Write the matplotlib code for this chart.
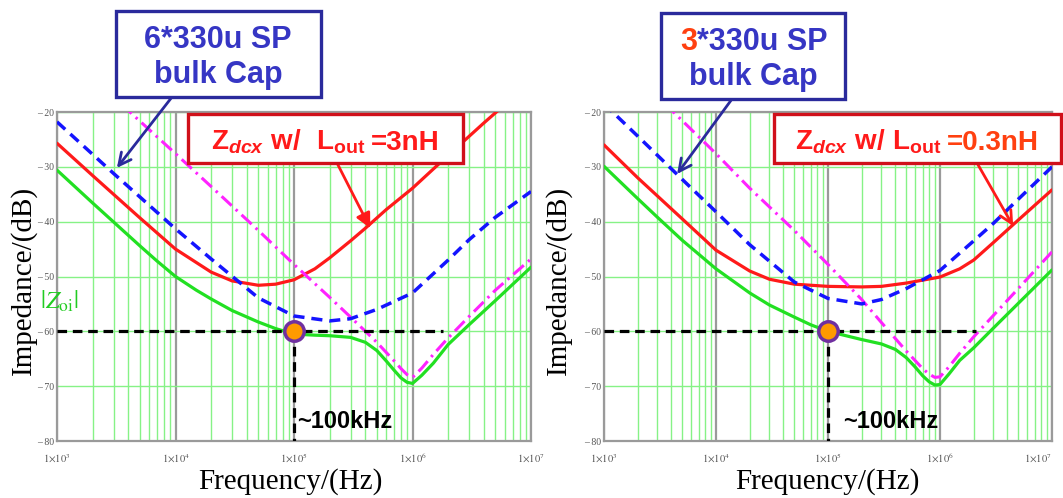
import matplotlib
matplotlib.use("Agg")
import matplotlib.pyplot as plt
from matplotlib.patches import Rectangle
from matplotlib.ticker import FixedLocator, NullFormatter

# Bold sans mathtext for the callout labels (Z_dcx, L_out)
plt.rcParams['mathtext.fontset'] = 'custom'
plt.rcParams['mathtext.rm'] = 'Liberation Sans:bold'
plt.rcParams['mathtext.it'] = 'Liberation Sans:bold:italic'
plt.rcParams['mathtext.bf'] = 'Liberation Sans:bold'

# ---------------- data (frequency in Hz, impedance in dB) ----------------
# Panel A: 6 x 330uF SP bulk caps, Lout = 3nH
zoi_f_a = [1e3, 2e3, 5e3, 7e3, 1e4, 1.5e4, 2e4, 3e4, 5e4, 7e4, 1e5, 1.5e5, 2e5, 3e5,
           4e5, 5e5, 6e5, 7e5, 8e5, 9e5, 1e6, 1.2e6, 1.5e6, 2e6, 3e6, 5e6, 1e7]
zoi_db_a = [-30.6, -36.6, -44.4, -47.2, -50.0, -52.5, -54.1, -56.2, -58.3, -59.5,
            -60.5, -60.7, -60.8, -61.1, -62.0, -63.5, -65.4, -67.1, -68.5, -69.3,
            -69.5, -68.0, -65.8, -62.4, -58.8, -54.4, -48.3]
zdcx_f_a = [1e3, 2e3, 5e3, 1e4, 2e4, 3e4, 5e4, 7e4, 1e5, 1.5e5, 2e5, 3e5, 4e5,
            6e5, 1e6, 2e6, 4e6, 7e6]
zdcx_db_a = [-25.7, -31.6, -39.3, -45.0, -49.2, -50.8, -51.6, -51.4, -50.6, -48.6,
             -46.6, -43.5, -41.2, -37.8, -33.9, -27.9, -22.0, -17.4]
zbulk_f_a = [1e3, 3e3, 1e4, 2e4, 5e4, 1e5, 2e5, 3e5, 5e5, 1e6, 2e6, 3e6, 5e6, 1e7]
zbulk_db_a = [-21.8, -31.2, -41.3, -46.8, -53.9, -57.2, -58.1, -57.7, -56.0, -53.0,
              -47.0, -43.3, -39.2, -34.5]
zmlcc_f_a = [3.5e3, 1e4, 2e4, 5e4, 1e5, 2e5, 3e5, 5e5, 7e5, 8e5, 9e5, 1e6, 1.2e6,
             1.5e6, 2e6, 3e6, 5e6, 1e7]
zmlcc_db_a = [-18.6, -27.6, -33.6, -41.6, -47.8, -53.8, -57.4, -62.0, -65.4, -66.8,
              -67.9, -68.4, -66.7, -64.2, -61.2, -57.3, -52.5, -46.8]

# Panel B: 3 x 330uF SP bulk caps, Lout = 0.3nH
zoi_f_b = [1e3, 2e3, 3e3, 5e3, 1e4, 2e4, 3e4, 5e4, 7e4, 1e5, 2e5, 3e5, 4e5, 5e5,
           6e5, 7e5, 8e5, 9e5, 1e6, 1.2e6, 1.5e6, 2e6, 3e6, 5e6, 1e7]
zoi_db_b = [-29.9, -35.8, -39.2, -43.4, -48.6, -53.0, -55.2, -57.4, -58.8, -60.0,
            -61.5, -62.3, -63.3, -64.8, -66.5, -68.1, -69.2, -69.8, -69.7, -67.8,
            -65.3, -63.0, -59.4, -54.9, -48.8]
zdcx_f_b = [1e3, 2e3, 5e3, 1e4, 2e4, 3e4, 5e4, 1e5, 2e5, 3e5, 5e5, 1e6, 1.5e6,
            2e6, 3e6, 5e6, 1e7]
zdcx_db_b = [-26.0, -32.0, -39.5, -45.2, -49.0, -50.5, -51.4, -51.8, -51.9, -51.8,
             -51.2, -50.1, -48.6, -47.0, -43.8, -39.7, -34.2]
zbulk_f_b = [1e3, 2e3, 5e3, 1e4, 2e4, 5e4, 1e5, 2e5, 3e5, 5e5, 1e6, 2e6, 3e6, 5e6, 1e7]
zbulk_db_b = [-18.5, -24.4, -32.3, -38.2, -44.2, -51.0, -54.0, -55.0, -54.2, -52.2,
              -48.9, -43.5, -40.3, -35.9, -30.0]
zmlcc_f_b = [3.5e3, 1e4, 2e4, 5e4, 1e5, 2e5, 3e5, 5e5, 7e5, 8e5, 9e5, 1e6, 1.2e6,
             1.5e6, 2e6, 3e6, 5e6, 1e7]
zmlcc_db_b = [-18.5, -27.6, -33.9, -41.6, -47.8, -54.2, -58.4, -63.6, -66.8, -67.8,
              -68.4, -68.3, -66.5, -64.0, -61.0, -57.1, -52.2, -45.5]

# target impedance marker and guide line
target_f = 1e5
target_db = -60
guide_end_f_a = 1.8e6
guide_end_f_b = 2.1e6

y_ticks = [-20, -30, -40, -50, -60, -70, -80]
x_ticks = [1e3, 1e4, 1e5, 1e6, 1e7]
x_tick_labels = [r'$1{\times}10^{3}$', r'$1{\times}10^{4}$', r'$1{\times}10^{5}$',
                 r'$1{\times}10^{6}$', r'$1{\times}10^{7}$']

# ---------------- figure ----------------
W, H = 1063, 498
fig = plt.figure(figsize=(W / 100, H / 100), dpi=100)


def fx(px):
    return px / W


def fy(py):
    return 1 - py / H


SERIF = 'Liberation Serif'
SANS = 'Liberation Sans'
GRID_GREEN = '#86f286'
FRAME_GRAY = '#9a9a9a'
RED = '#ff1a1a'
GREEN = '#22e022'
BLUE = '#1414ff'
MAGENTA = '#ff22ff'
NAVY = '#2a2a9c'
BOX_BLUE_TXT = '#3636c4'
BOX_RED = '#d0101a'
ORANGE_TXT = '#ff4010'


def make_panel(rect, zoi, zdcx, zbulk, zmlcc, guide_end):
    ax = fig.add_axes(rect)
    ax.set_xscale('log')
    ax.set_xlim(1e3, 1e7)
    ax.set_ylim(-80, -20)
    ax.set_facecolor('white')

    # grid: green minor decades, grey decade lines, green dB lines
    ax.xaxis.set_minor_locator(FixedLocator(
        [m * 10 ** e for e in range(3, 7) for m in range(2, 10)]))
    ax.xaxis.set_minor_formatter(NullFormatter())
    ax.grid(True, which='minor', axis='x', color=GRID_GREEN, lw=1.0, zorder=0)
    ax.grid(True, which='major', axis='x', color=FRAME_GRAY, lw=1.6, zorder=0)
    ax.grid(True, which='major', axis='y', color=GRID_GREEN, lw=1.0, zorder=0)
    ax.set_axisbelow(True)
    for s in ax.spines.values():
        s.set_color(FRAME_GRAY)
        s.set_linewidth(1.6)

    ax.set_xticks(x_ticks)
    ax.set_xticklabels(x_tick_labels, fontsize=7.5, color='#555555',
                       math_fontfamily='stix')
    ax.set_yticks(y_ticks)
    ax.set_yticklabels(['\u2013 %d' % abs(v) for v in y_ticks], fontsize=7,
                       color='#555555', family=SERIF)
    ax.tick_params(axis='both', which='both', length=0)
    ax.tick_params(axis='x', pad=8)
    ax.tick_params(axis='y', pad=2)

    ax.plot(zdcx[0], zdcx[1], color=RED, lw=2.3, zorder=3, solid_capstyle='round')
    ax.plot(zoi[0], zoi[1], color=GREEN, lw=2.3, zorder=3, solid_capstyle='round')
    ax.plot(zmlcc[0], zmlcc[1], color=MAGENTA, lw=2.2, zorder=3,
            dashes=(4.5, 1.8, 0.8, 1.8))
    ax.plot(zbulk[0], zbulk[1], color=BLUE, lw=2.5, zorder=3, dashes=(3.2, 2.0))

    ax.plot([1e3, guide_end], [target_db, target_db], color='black', lw=2.3,
            dashes=(3.0, 1.8), zorder=4)
    ax.plot([target_f, target_f], [target_db, -80], color='black', lw=2.3,
            dashes=(3.0, 1.8), zorder=4)
    ax.plot([target_f], [target_db], 'o', ms=14, mfc='#ff9a00', mec='#7030a0',
            mew=2.5, zorder=5, clip_on=False)
    return ax


axA = make_panel([fx(57), 1 - 441 / H, 474 / W, 329 / H],
                 (zoi_f_a, zoi_db_a), (zdcx_f_a, zdcx_db_a),
                 (zbulk_f_a, zbulk_db_a), (zmlcc_f_a, zmlcc_db_a), guide_end_f_a)
axB = make_panel([fx(604), 1 - 441 / H, 448 / W, 329 / H],
                 (zoi_f_b, zoi_db_b), (zdcx_f_b, zdcx_db_b),
                 (zbulk_f_b, zbulk_db_b), (zmlcc_f_b, zmlcc_db_b), guide_end_f_b)
# the last decade label of the right panel sits against the figure edge
axB.get_xticklabels()[-1].set_horizontalalignment('right')

# axis titles
for cx in (290, 827):
    fig.text(fx(cx), fy(482), 'Frequency/(Hz)', ha='center', va='center',
             fontsize=21, family=SERIF)
for cx in (23, 558):
    fig.text(fx(cx), fy(280), 'Impedance/(dB)', ha='center', va='center',
             rotation=90, fontsize=21, family=SERIF)

# |Zoi| tag
fig.text(fx(40), fy(301), r'$|Z_{\mathrm{oi}}|$', ha='left', va='center',
         fontsize=18, color='#22cc22', math_fontfamily='stix')

# ~100kHz notes
fig.text(fx(297), fy(428), '~100kHz', ha='left', va='baseline', fontsize=17,
         fontweight='bold', family=SANS)
fig.text(fx(843), fy(428), '~100kHz', ha='left', va='baseline', fontsize=17,
         fontweight='bold', family=SANS)


def box(x0, y0, x1, y1, ec):
    fig.add_artist(Rectangle((fx(x0), fy(y1)), (x1 - x0) / W, (y1 - y0) / H,
                             transform=fig.transFigure, fc='white', ec=ec,
                             lw=2.4, zorder=5))


def arrow(ax, tip, start, color, style):
    ax.annotate('', xy=tip, xycoords='data', xytext=(fx(start[0]), fy(start[1])),
                textcoords='figure fraction', annotation_clip=False, zorder=6,
                arrowprops=dict(arrowstyle=style, color=color, lw=2.0,
                                shrinkA=0, shrinkB=0, mutation_scale=22))


# bulk cap callouts
box(116, 11, 321, 97, NAVY)
fig.text(fx(218), fy(48), '6*330u SP', ha='center', va='baseline', fontsize=22,
         fontweight='bold', family=SANS, color=BOX_BLUE_TXT, zorder=6)
fig.text(fx(218), fy(83), 'bulk Cap', ha='center', va='baseline', fontsize=22,
         fontweight='bold', family=SANS, color=BOX_BLUE_TXT, zorder=6)
arrow(axA, (3.2e3, -30.2), (172, 97), NAVY, '->')

box(661, 13, 845, 99, NAVY)
fig.text(fx(697), fy(50), '3', ha='right', va='baseline', fontsize=22,
         fontweight='bold', family=SANS, color=ORANGE_TXT, zorder=6)
fig.text(fx(697), fy(50), '*330u SP', ha='left', va='baseline', fontsize=22,
         fontweight='bold', family=SANS, color=BOX_BLUE_TXT, zorder=6)
fig.text(fx(753), fy(85), 'bulk Cap', ha='center', va='baseline', fontsize=22,
         fontweight='bold', family=SANS, color=BOX_BLUE_TXT, zorder=6)
arrow(axB, (4.5e3, -31.3), (732, 99), NAVY, '->')

# Zdcx callouts
box(188, 114, 463, 163, BOX_RED)
fig.text(fx(366), fy(150), r'$\mathrm{Z}_{dcx}\mathrm{\ w/\ \ L}_{\mathrm{out}}$',
         ha='right', va='baseline', fontsize=20, color=RED, zorder=6)
fig.text(fx(371), fy(150), '=3nH', ha='left', va='baseline', fontsize=20,
         fontweight='bold', family=SANS, color=RED, zorder=6)
arrow(axA, (4.4e5, -41.2), (337, 163), RED, '-|>')

box(774, 114, 1061, 163, BOX_RED)
fig.text(fx(941), fy(150), r'$\mathrm{Z}_{dcx}\mathrm{\ w/\ L}_{\mathrm{out}}$',
         ha='right', va='baseline', fontsize=20, color=RED, zorder=6)
fig.text(fx(947), fy(150), '=0.3nH', ha='left', va='baseline', fontsize=20,
         fontweight='bold', family=SANS, color=ORANGE_TXT, zorder=6)
arrow(axB, (4.5e6, -40.8), (977, 163), RED, '->')

fig.savefig('out.png', dpi=100, facecolor='white')
